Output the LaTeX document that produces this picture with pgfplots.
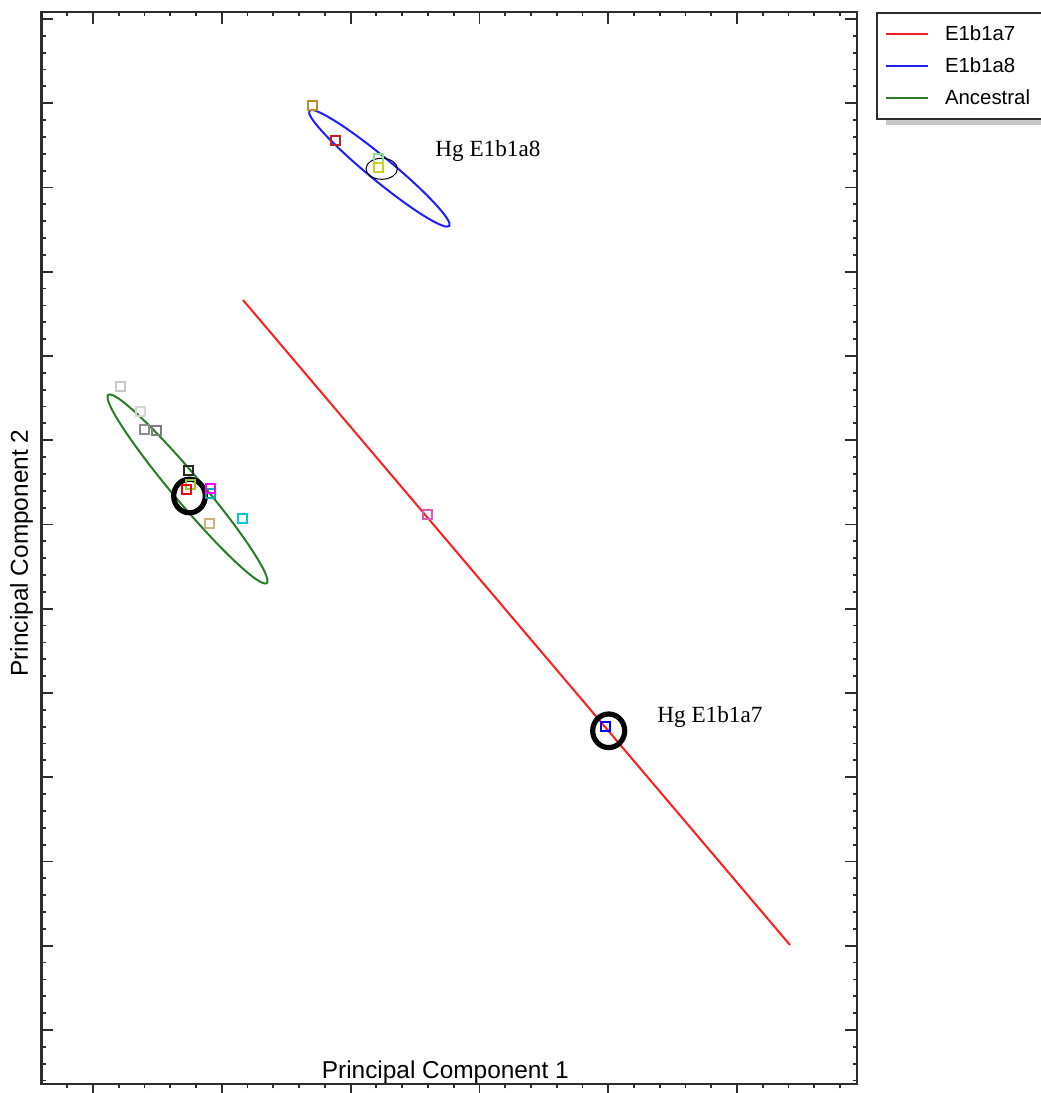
\documentclass[border=0pt]{standalone}
\usepackage{pgfplots}
\pgfplotsset{compat=1.18}
\usepackage{fontspec}
\setmainfont{Liberation Sans}
\newfontfamily\serifont{Liberation Serif}
\definecolor{axgray}{RGB}{45,45,45}
\definecolor{lred}{RGB}{255,30,30}
\definecolor{lblue}{RGB}{30,30,255}
\definecolor{lgreen}{RGB}{40,125,40}
\definecolor{cbrown}{RGB}{190,140,40}
\definecolor{cdred}{RGB}{200,30,30}
\definecolor{clgreen}{RGB}{140,225,140}
\definecolor{cyellow}{RGB}{205,205,30}
\definecolor{cgray1}{RGB}{200,200,200}
\definecolor{cgray2}{RGB}{215,215,215}
\definecolor{cgray3}{RGB}{140,140,140}
\definecolor{cgray4}{RGB}{125,125,125}
\definecolor{cblack}{RGB}{40,40,40}
\definecolor{cygreen}{RGB}{154,200,50}
\definecolor{cred}{RGB}{255,0,0}
\definecolor{cmag}{RGB}{255,0,255}
\definecolor{cteal}{RGB}{0,170,170}
\definecolor{ctan}{RGB}{210,180,120}
\definecolor{ccyan}{RGB}{0,200,210}
\definecolor{cpink}{RGB}{220,90,190}
\definecolor{cblue}{RGB}{0,0,255}
\definecolor{shadowgray}{RGB}{200,200,200}
\begin{document}
\begin{tikzpicture}
\pgfplotsset{
  base/.style={
    x=0.5pt, y=0.5pt,
    xmin=41.5, xmax=857, ymin=9, ymax=1081,
    xtick={93,221.8,350.6,479.4,608.2,737},
    minor xtick={67.24,93,...,850},
    ytick={63,147.25,...,1075},
    minor ytick={12.45,29.3,...,1081},
    xticklabel=\empty, yticklabel=\empty,
    clip=false,
    tick style={axgray, line width=0.9pt},
  },
  sq/.style={only marks, mark=square, mark size=2.25pt, mark options={draw=#1, line width=1pt, solid}, forget plot},
}
\begin{axis}[base,
  tick align=inside, xtick pos=right, ytick pos=both,
  major tick length=6pt, minor tick length=2.2pt,
  axis line style={axgray, line width=1.2pt},
  legend style={at={(axis cs:876,1081)}, anchor=north west,
    draw=axgray, line width=1pt, fill=white,
    inner xsep=4pt, inner ysep=4.9pt, row sep=5pt, column sep=6pt,
    nodes={inner sep=2pt, text height=7pt, text depth=0pt},
    font=\fontsize{10.2pt}{12pt}\selectfont},
  legend cell align=left,
  legend image code/.code={\draw[#1] (0pt,0pt) -- (21pt,0pt);},
]
\addlegendimage{lred, line width=1pt}
\addlegendentry{E1b1a7\hspace{30pt}}
\addlegendimage{lblue, line width=1pt}
\addlegendentry{E1b1a8}
\addlegendimage{lgreen, line width=1pt}
\addlegendentry{Ancestral}

% legend shadow
\fill[shadowgray] (axis cs:886,968) rectangle (axis cs:1060,990);

% red regression line
\addplot[lred, line width=1pt, forget plot] coordinates {(243,793) (790,148)};

% confidence ellipses
\draw[lblue, line width=1pt, rotate around={-39.5:(axis cs:379.3,924.7)}] (axis cs:379.3,924.7) ellipse [x radius=45.35pt, y radius=5.9pt];
\draw[lgreen, line width=1pt, rotate around={-49.9:(axis cs:187.5,604)}] (axis cs:187.5,604) ellipse [x radius=61.5pt, y radius=7.2pt];

% points
\addplot[sq=cbrown] coordinates {(312.7,987)};
\addplot[sq=cdred] coordinates {(335,952.3)};
\addplot[sq=clgreen] coordinates {(378.3,934.7)};
\addplot[sq=cyellow] coordinates {(378.3,925.7)};
\addplot[sq=cgray1] coordinates {(120.7,706.3)};
\addplot[sq=cgray2] coordinates {(140.7,681.3)};
\addplot[sq=cgray3] coordinates {(145,663.7)};
\addplot[sq=cgray4] coordinates {(156.7,662)};
\addplot[sq=cblack] coordinates {(188.3,622.3)};
\addplot[sq=cygreen] coordinates {(190,608)};
\addplot[sq=cred] coordinates {(186.7,603.7)};
\addplot[sq=cteal] coordinates {(210.7,599.7)};
\addplot[sq=cmag] coordinates {(210,604.7)};
\addplot[sq=ctan] coordinates {(209,569.7)};
\addplot[sq=ccyan] coordinates {(242.3,574)};
\addplot[sq=cpink] coordinates {(427,578)};
\addplot[sq=cblue] coordinates {(605,366)};

% highlight annotations
\draw[black, line width=0.5pt] (axis cs:381.7,924.2) ellipse [x radius=7.85pt, y radius=5.25pt];
\draw[black, line width=2.6pt] (axis cs:189.5,597) ellipse [x radius=7.9pt, y radius=8.4pt];
\draw[black, line width=2.6pt] (axis cs:608.7,362.2) ellipse [x radius=8pt, y radius=8.4pt];

\node[anchor=base west, font=\serifont\fontsize{11.6pt}{13pt}\selectfont, inner sep=0pt] at (axis cs:435,936) {Hg E1b1a8};
\node[anchor=base west, font=\serifont\fontsize{11.6pt}{13pt}\selectfont, inner sep=0pt] at (axis cs:657,370) {Hg E1b1a7};

\node[anchor=base, font=\fontsize{12.2pt}{14pt}\selectfont, inner sep=0pt] at (axis cs:445.3,15) {Principal Component 1};
\node[anchor=base, rotate=90, font=\fontsize{12.2pt}{14pt}\selectfont, inner sep=0pt] at (axis cs:28,540) {Principal Component 2};

\coordinate (bbA) at (axis cs:0,0);
\coordinate (bbB) at (axis cs:1040,1093);
\end{axis}
\begin{axis}[base,
  tick align=outside, xtick pos=left, ytick=\empty, minor ytick=\empty,
  major tick length=5pt, minor tick length=2.2pt,
  axis line style={draw=none},
]
\end{axis}
\pgfresetboundingbox
\useasboundingbox (bbA) rectangle (bbB);
\end{tikzpicture}
\end{document}
